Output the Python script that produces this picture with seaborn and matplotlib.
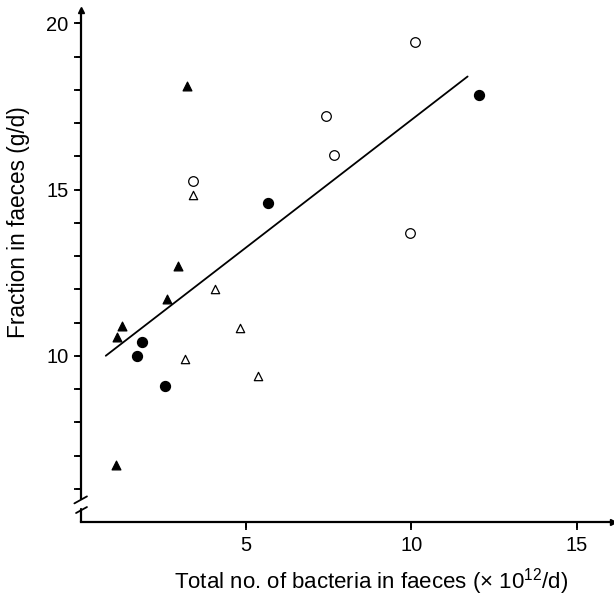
import matplotlib
matplotlib.use("Agg")
import pandas as pd
import matplotlib.pyplot as plt
import seaborn as sns

# values (x: bacteria x10^12/d, y: fraction g/d)
tri_filled_x = [3.2, 2.95, 2.6, 1.25, 1.08, 1.05]
tri_filled_y = [18.1, 12.7, 11.7, 10.9, 10.55, 6.7]

tri_open_x = [3.4, 4.05, 4.8, 3.15, 5.35]
tri_open_y = [14.85, 12.0, 10.85, 9.9, 9.4]

circ_filled_x = [1.85, 1.7, 2.55, 5.65, 12.05]
circ_filled_y = [10.4, 10.0, 9.1, 14.6, 17.85]

circ_open_x = [3.4, 7.4, 7.65, 10.1, 9.95]
circ_open_y = [15.25, 17.2, 16.05, 19.45, 13.7]

# regression line end points
fit_x = [0.75, 11.7]
fit_y = [10.0, 18.4]

x_ticks = [5, 10, 15]
y_ticks = [10, 15, 20]
y_minor = [6, 7, 8, 9, 11, 12, 13, 14, 16, 17, 18, 19]

sns.set_theme(style="ticks")
plt.rcParams["font.family"] = ["Liberation Sans", "DejaVu Sans"]
plt.rcParams["mathtext.fontset"] = "custom"
plt.rcParams["mathtext.rm"] = "Liberation Sans"
plt.rcParams["mathtext.it"] = "Liberation Sans"

fig = plt.figure(figsize=(6.14, 5.98), dpi=100)
ax = fig.add_axes([81 / 614, 76 / 598, 532 / 614, 512 / 598])

groups = [
    (tri_filled_x, tri_filled_y, "^", "black", 40),
    (tri_open_x, tri_open_y, "^", "white", 36),
    (circ_filled_x, circ_filled_y, "o", "black", 52),
    (circ_open_x, circ_open_y, "o", "white", 48),
]
for gx, gy, mk, fc, sz in groups:
    df = pd.DataFrame({"x": gx, "y": gy})
    sns.scatterplot(data=df, x="x", y="y", marker=mk, s=sz, color=fc,
                    edgecolor="black", linewidth=0.9, ax=ax, zorder=3)

sns.lineplot(x=fit_x, y=fit_y, color="black", linewidth=1.3, ax=ax)

ax.set_xlim(0, 16.1)
ax.set_ylim(5, 20.4)
sns.despine(ax=ax)

ax.set_xticks(x_ticks)
ax.set_yticks(y_ticks)
ax.set_yticks(y_minor, minor=True)
ax.tick_params(axis="y", which="both", left=True, direction="out", length=5,
               width=1.3, color="black", labelsize=14.5, labelcolor="black", pad=4)
ax.tick_params(axis="x", which="major", bottom=True, direction="out", length=6,
               width=1.3, color="black", labelsize=14.5, labelcolor="black", pad=4)

ax.set_xlabel("Total no. of bacteria in faeces (× 10$^{12}$/d)", fontsize=16, color="black")
ax.set_ylabel("Fraction in faeces (g/d)", fontsize=16.3, color="black")
ax.xaxis.set_label_coords(0.545, -0.086)
ax.yaxis.set_label_coords(-0.096, 0.585)

for side in ["left", "bottom"]:
    ax.spines[side].set_linewidth(1.6)
    ax.spines[side].set_color("black")
ax.spines["left"].set_bounds(5.72, 20.4)

# tick marks as plain line segments (axes-fraction offsets = 5-6 px)
ytr = ax.get_yaxis_transform()
xtr = ax.get_xaxis_transform()
ax.hlines(y_ticks + y_minor, -5 / 532, 0, colors="black", linewidth=1.3,
          transform=ytr, clip_on=False, zorder=4)
ax.vlines(x_ticks, -6 / 512, 0, colors="black", linewidth=1.3,
          transform=xtr, clip_on=False, zorder=4)

# axis break and arrow heads
ax.plot([0, 0], [5, 5.4], color="black", lw=1.6, clip_on=False)
ax.plot([-0.2, 0.18], [5.56, 5.77], color="black", lw=1.3, clip_on=False)
ax.plot([-0.15, 0.18], [5.27, 5.45], color="black", lw=1.3, clip_on=False)
ax.plot([0], [20.4], marker="^", color="black", ms=4, clip_on=False)
ax.plot([16.1], [5], marker=">", color="black", ms=4, clip_on=False)

fig.savefig("out.png", dpi=100)
